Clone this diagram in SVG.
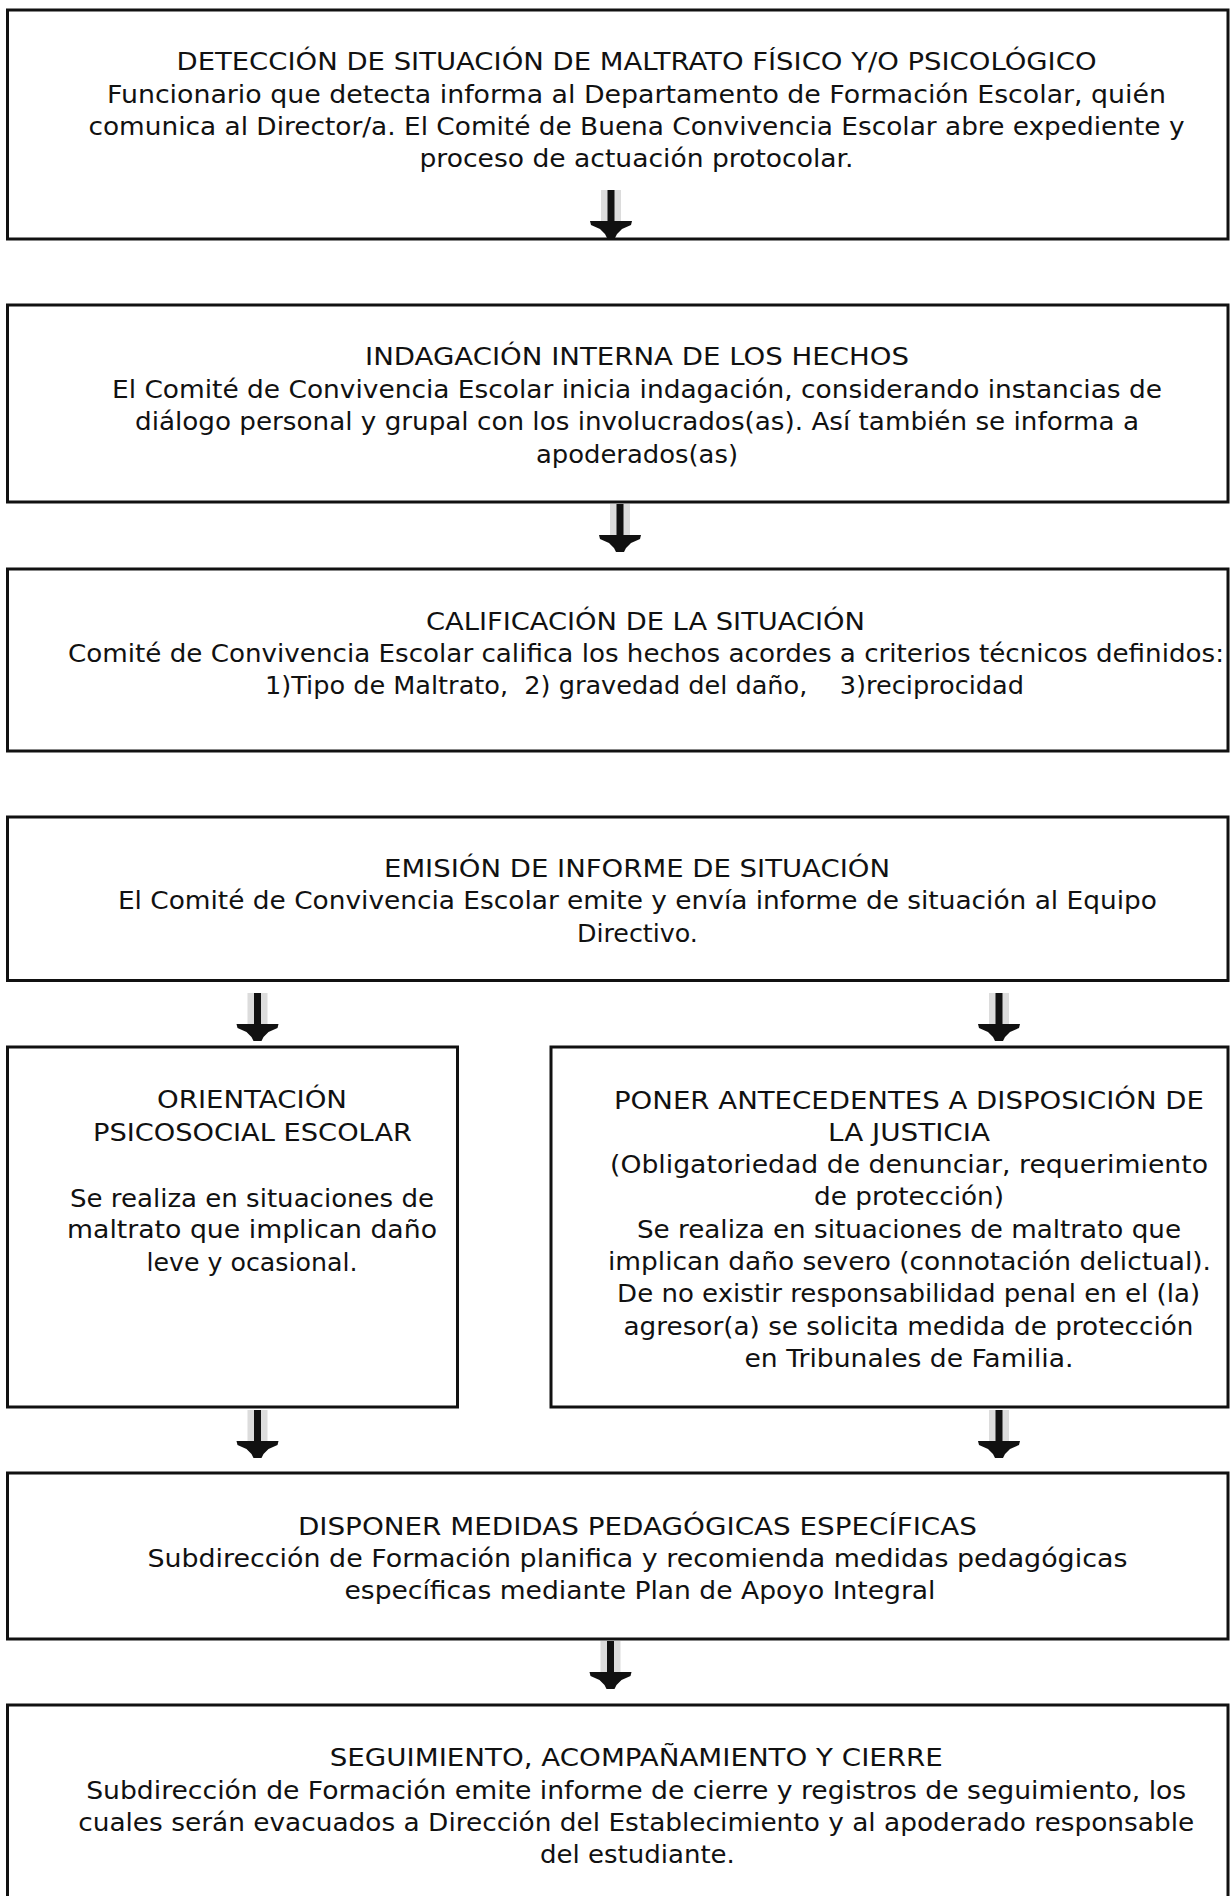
<svg xmlns="http://www.w3.org/2000/svg" xmlns:xlink="http://www.w3.org/1999/xlink" width="1230" height="1896" viewBox="0 0 1230 1896">
<style>
.box{fill:#fff;stroke:#111;stroke-width:3}
.t{font-family:"DejaVu Sans","Liberation Sans",sans-serif;font-size:24px;fill:#111;text-anchor:middle}
.pre{white-space:pre}
</style>
<defs>
<g id="arrow">
<rect x="-10" y="-48" width="20" height="31" fill="#dcdcdc"/>
<rect x="-3.5" y="-48" width="7" height="40" fill="#111"/>
<polygon points="-21,-17 21,-17 20,-13 11,-9 6,-4 4,0 -4,0 -6,-4 -11,-9 -20,-13" fill="#111"/>
</g>
</defs>
<rect width="1230" height="1896" fill="#fff"/>

<g id="node1">
<rect class="box" x="7.5" y="10" width="1220.5" height="229"/>
<text class="t" x="636.5" y="70" textLength="920" lengthAdjust="spacingAndGlyphs">DETECCIÓN DE SITUACIÓN DE MALTRATO FÍSICO Y/O PSICOLÓGICO</text>
<text class="t" x="636.5" y="103" textLength="1059" lengthAdjust="spacingAndGlyphs">Funcionario que detecta informa al Departamento de Formación Escolar, quién</text>
<text class="t" x="636.5" y="135" textLength="1096" lengthAdjust="spacingAndGlyphs">comunica al Director/a. El Comité de Buena Convivencia Escolar abre expediente y</text>
<text class="t" x="636.5" y="167" textLength="434" lengthAdjust="spacingAndGlyphs">proceso de actuación protocolar.</text>
</g>

<g id="node2">
<rect class="box" x="7.5" y="305" width="1220.5" height="197"/>
<text class="t" x="637" y="365" textLength="544" lengthAdjust="spacingAndGlyphs">INDAGACIÓN INTERNA DE LOS HECHOS</text>
<text class="t" x="637" y="398" textLength="1050" lengthAdjust="spacingAndGlyphs">El Comité de Convivencia Escolar inicia indagación, considerando instancias de</text>
<text class="t" x="637" y="430" textLength="1004" lengthAdjust="spacingAndGlyphs">diálogo personal y grupal con los involucrados(as). Así también se informa a</text>
<text class="t" x="637" y="463" textLength="202" lengthAdjust="spacingAndGlyphs">apoderados(as)</text>
</g>

<g id="node3">
<rect class="box" x="7.5" y="569" width="1220.5" height="182"/>
<text class="t" x="645.5" y="630" textLength="439" lengthAdjust="spacingAndGlyphs">CALIFICACIÓN DE LA SITUACIÓN</text>
<text class="t" x="646" y="662" textLength="1156" lengthAdjust="spacingAndGlyphs">Comité de Convivencia Escolar califica los hechos acordes a criterios técnicos definidos:</text>
<text class="t pre" x="644.5" y="694" textLength="759" lengthAdjust="spacingAndGlyphs" xml:space="preserve">1)Tipo de Maltrato,  2) gravedad del daño,    3)reciprocidad</text>
</g>

<g id="node4">
<rect class="box" x="7.5" y="817" width="1220.5" height="163.5"/>
<text class="t" x="637" y="877" textLength="506" lengthAdjust="spacingAndGlyphs">EMISIÓN DE INFORME DE SITUACIÓN</text>
<text class="t" x="637.4" y="909" textLength="1039" lengthAdjust="spacingAndGlyphs">El Comité de Convivencia Escolar emite y envía informe de situación al Equipo</text>
<text class="t" x="637.4" y="942" textLength="121" lengthAdjust="spacingAndGlyphs">Directivo.</text>
</g>

<g id="node5">
<rect class="box" x="7.5" y="1047" width="450" height="360"/>
<text class="t" x="252" y="1108" textLength="190" lengthAdjust="spacingAndGlyphs">ORIENTACIÓN</text>
<text class="t" x="252.5" y="1141" textLength="319" lengthAdjust="spacingAndGlyphs">PSICOSOCIAL ESCOLAR</text>
<text class="t" x="252" y="1207" textLength="364" lengthAdjust="spacingAndGlyphs">Se realiza en situaciones de</text>
<text class="t" x="252" y="1238" textLength="370" lengthAdjust="spacingAndGlyphs">maltrato que implican daño</text>
<text class="t" x="252" y="1271" textLength="211" lengthAdjust="spacingAndGlyphs">leve y ocasional.</text>
</g>

<g id="node6">
<rect class="box" x="551" y="1047" width="677" height="360"/>
<text class="t" x="909" y="1109" textLength="590" lengthAdjust="spacingAndGlyphs">PONER ANTECEDENTES A DISPOSICIÓN DE</text>
<text class="t" x="909" y="1141" textLength="162" lengthAdjust="spacingAndGlyphs">LA JUSTICIA</text>
<text class="t" x="909" y="1173" textLength="598" lengthAdjust="spacingAndGlyphs">(Obligatoriedad de denunciar, requerimiento</text>
<text class="t" x="909" y="1205" textLength="190" lengthAdjust="spacingAndGlyphs">de protección)</text>
<text class="t" x="909" y="1238" textLength="544" lengthAdjust="spacingAndGlyphs">Se realiza en situaciones de maltrato que</text>
<text class="t" x="909.5" y="1270" textLength="603" lengthAdjust="spacingAndGlyphs">implican daño severo (connotación delictual).</text>
<text class="t" x="908.6" y="1302" textLength="583" lengthAdjust="spacingAndGlyphs">De no existir responsabilidad penal en el (la)</text>
<text class="t" x="908.5" y="1335" textLength="570" lengthAdjust="spacingAndGlyphs">agresor(a) se solicita medida de protección</text>
<text class="t" x="909" y="1367" textLength="329" lengthAdjust="spacingAndGlyphs">en Tribunales de Familia.</text>
</g>

<g id="node7">
<rect class="box" x="7.5" y="1473" width="1220.5" height="166"/>
<text class="t" x="637.4" y="1535" textLength="679" lengthAdjust="spacingAndGlyphs">DISPONER MEDIDAS PEDAGÓGICAS ESPECÍFICAS</text>
<text class="t" x="637.4" y="1567" textLength="980" lengthAdjust="spacingAndGlyphs">Subdirección de Formación planifica y recomienda medidas pedagógicas</text>
<text class="t" x="640" y="1599" textLength="591" lengthAdjust="spacingAndGlyphs">específicas mediante Plan de Apoyo Integral</text>
</g>

<g id="node8">
<rect class="box" x="7.5" y="1705" width="1220.5" height="200"/>
<text class="t" x="636.3" y="1766" textLength="613" lengthAdjust="spacingAndGlyphs">SEGUIMIENTO, ACOMPAÑAMIENTO Y CIERRE</text>
<text class="t" x="636.2" y="1799" textLength="1100" lengthAdjust="spacingAndGlyphs">Subdirección de Formación emite informe de cierre y registros de seguimiento, los</text>
<text class="t" x="636.2" y="1831" textLength="1116" lengthAdjust="spacingAndGlyphs">cuales serán evacuados a Dirección del Establecimiento y al apoderado responsable</text>
<text class="t" x="637.4" y="1863" textLength="195" lengthAdjust="spacingAndGlyphs">del estudiante.</text>
</g>

<g id="connectors">
<use xlink:href="#arrow" href="#arrow" transform="translate(611,238)"/>
<use xlink:href="#arrow" href="#arrow" transform="translate(620,552)"/>
<use xlink:href="#arrow" href="#arrow" transform="translate(257.5,1041)"/>
<use xlink:href="#arrow" href="#arrow" transform="translate(999,1041)"/>
<use xlink:href="#arrow" href="#arrow" transform="translate(257.5,1458)"/>
<use xlink:href="#arrow" href="#arrow" transform="translate(999,1458)"/>
<use xlink:href="#arrow" href="#arrow" transform="translate(610.5,1689)"/>
</g>
</svg>
